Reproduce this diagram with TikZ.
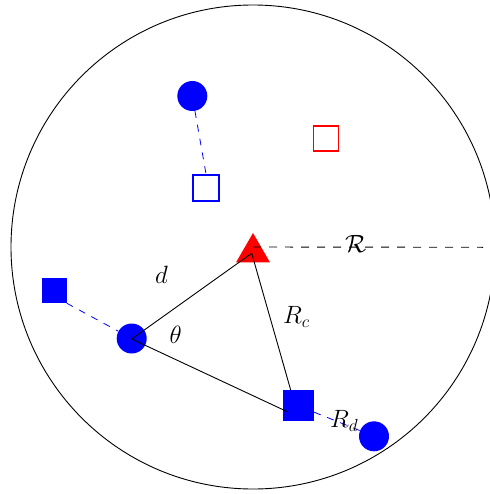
\documentclass[tikz,border=0pt]{standalone}
\usepackage{fix-cm}
\usetikzlibrary{shapes.geometric}
\begin{document}
\begin{tikzpicture}[x=1pt,y=-1pt,
  ucirc/.style={circle,fill=blue,inner sep=0pt,minimum size=30pt},
  bsqfill/.style={rectangle,fill=blue,inner sep=0pt},
  bsqopen/.style={rectangle,draw=blue,line width=1.8pt,inner sep=0pt},
  rsqopen/.style={rectangle,draw=red,line width=1.8pt,inner sep=0pt},
  tri/.style={regular polygon,regular polygon sides=3,fill=red,inner sep=0pt,minimum size=39.2pt},
  blink/.style={blue,line width=0.8pt,dash pattern=on 7pt off 7pt},
  klink/.style={black,line width=0.9pt},
  lab/.style={font=\fontsize{25}{30}\selectfont,inner sep=0pt,anchor=base west}]
\useasboundingbox (0,0) rectangle (489,494);
% big circle
\node[draw,circle,line width=0.9pt,inner sep=0pt,minimum size=484pt] (C) at (253,247) {};
% nodes
\node[tri] (T) at (253,252.6) {};
\node[ucirc] (U1) at (131.7,338.5) {};
\node[bsqfill,minimum size=31.3pt] (S1) at (298.3,405.8) {};
\node[bsqfill,minimum size=25pt] (S2) at (54,290.5) {};
\node[ucirc] (U2) at (192.3,96) {};
\node[bsqopen,minimum size=26.5pt] (S3) at (206,188) {};
\node[rsqopen,minimum size=25pt] (S4) at (326,138.5) {};
\node[ucirc] (U3) at (374,436.3) {};
% coordinates
\coordinate (A) at (251.7,253.3);
\coordinate (V) at (131.7,339);
\coordinate (B) at (287.3,411.7);
\coordinate (Bt) at (290.7,390);
\coordinate (Rend) at (483,247.3);
% blue dashed links
\draw[blink] (S2.south east) -- (U1);
\draw[blink] (U2) -- (S3.north);
\draw[blink] (S1) -- (U3);
% black lines
\draw[klink] (V) -- (A);
\draw[klink] (V) -- (B);
\draw[klink] (A) -- (Bt);
\draw[black,line width=0.9pt,dash pattern=on 8pt off 8pt] (C.center) -- (Rend);
% labels
\node[lab] (ld) at (155,283.3) {$d$};
\node[lab] (lt) at (169.5,343) {$\theta$};
\node[lab] (lrc) at (283,323.3) {$R_c$};
\node[lab] (lrd) at (330,427.7) {$R_d$};
\node[lab] (lr) at (345,252) {$\mathcal{R}$};
\end{tikzpicture}
\end{document}
